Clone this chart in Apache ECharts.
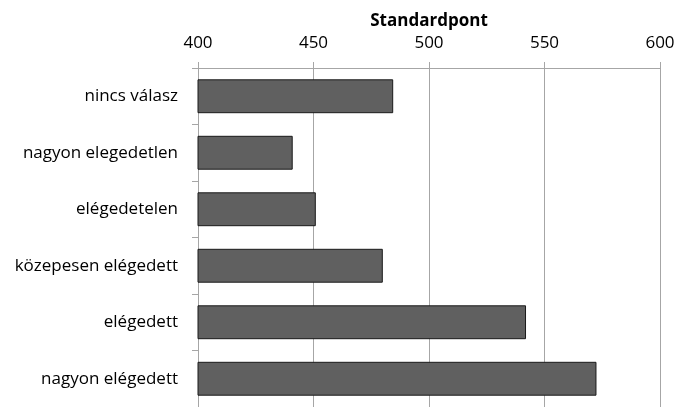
<!DOCTYPE html>
<html>
<head>
<meta charset="utf-8">
<script src="https://cdn.jsdelivr.net/npm/echarts@6/dist/echarts.min.js"></script>
<style>
  html, body { margin: 0; padding: 0; background: #fff; }
  #chart { width: 678px; height: 407px; }
</style>
</head>
<body>
<div id="chart"></div>
<script>
  // categories from top to bottom
  const categories = ['nincs válasz', 'nagyon elegedetlen', 'elégedetelen', 'közepesen elégedett', 'elégedett', 'nagyon elégedett'];
  const scores = [484.5, 441, 451, 480, 542, 572.5];
  const axisTicks = [400, 450, 500, 550, 600];

  const font = '"Open Sans", "DejaVu Sans", sans-serif';
  const chart = echarts.init(document.getElementById('chart'));
  chart.setOption({
    animation: false,
    grid: { left: 198, right: 18, top: 68, bottom: -3 },
    xAxis: {
      type: 'value',
      position: 'top',
      min: axisTicks[0],
      max: axisTicks[axisTicks.length - 1],
      interval: axisTicks[1] - axisTicks[0],
      name: 'Standardpont',
      nameLocation: 'middle',
      nameGap: 36,
      nameTextStyle: { fontFamily: font, fontSize: 17, fontWeight: 'bold', color: '#000' },
      axisLine: { show: true, lineStyle: { color: '#a6a6a6', width: 1 } },
      axisTick: { show: true, length: 6, lineStyle: { color: '#a6a6a6' } },
      splitLine: { show: true, lineStyle: { color: '#a6a6a6', width: 1 } },
      axisLabel: { fontFamily: font, fontSize: 17, color: '#000', margin: 16 }
    },
    yAxis: {
      type: 'category',
      data: categories,
      inverse: true,
      axisLine: { show: true, lineStyle: { color: '#a6a6a6' } },
      axisTick: { show: true, length: 6, lineStyle: { color: '#a6a6a6' } },
      axisLabel: { fontFamily: font, fontSize: 17, color: '#000', margin: 20 }
    },
    series: [{
      type: 'bar',
      data: scores,
      barCategoryGap: '40%',
      itemStyle: { color: '#606060', borderColor: '#1a1a1a', borderWidth: 1 }
    }]
  });
</script>
</body>
</html>
